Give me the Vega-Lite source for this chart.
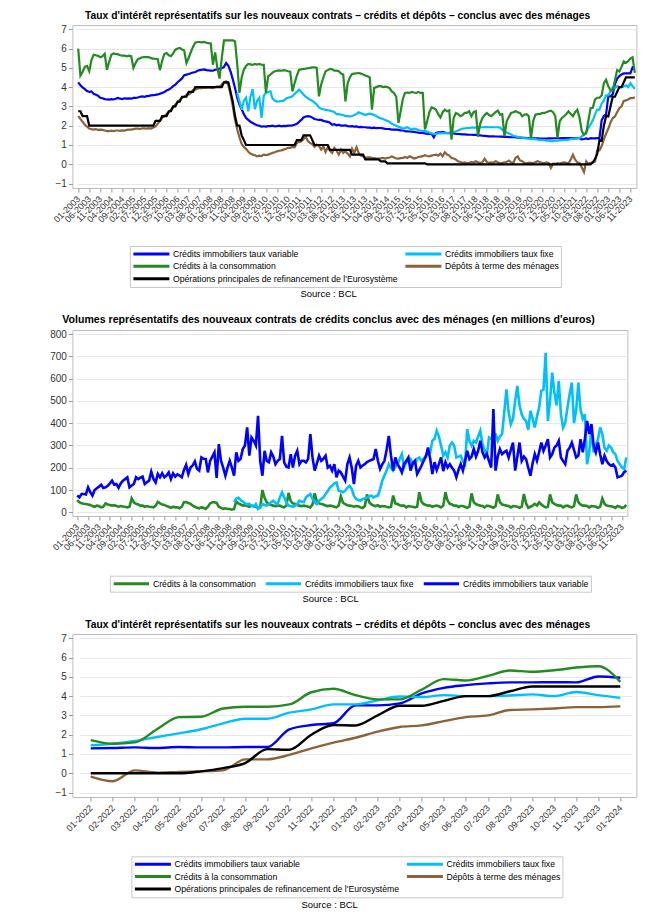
{
"$schema":"https://vega.github.io/schema/vega-lite/v6.json",
"padding":{"left":48.4,"top":10,"right":5,"bottom":5},
"columns":1,
"align":"none",
"spacing":15,
"resolve":{"scale":{"color":"independent"},"legend":{"color":"independent"}},
"config":{
"font":"Liberation Sans",
"view":{"stroke":"#bdbdbd","strokeWidth":1},
"axis":{"labelFont":"Liberation Sans","labelColor":"#333333","tickColor":"#9a9a9a","domain":false,"tickSize":4,"labelOverlap":false},
"axisY":{"grid":true,"gridColor":"#e8e8e8","labelFontSize":10,"labelPadding":2},
"axisX":{"grid":false,"labelFontSize":9,"labelAngle":-45,"labelAlign":"right","labelBaseline":"middle","labelPadding":5},
"title":{"font":"Liberation Sans","fontSize":10.3,"fontWeight":"bold","anchor":"middle","frame":"bounds","offset":3,"color":"#000000"},
"legend":{"labelFont":"Liberation Sans","labelColor":"#000000"}
},
"datasets":{
"names":[{"k":"v","n":"Crédits immobiliers taux variable"},{"k":"f","n":"Crédits immobiliers taux fixe"},{"k":"c","n":"Crédits à la consommation"},{"k":"e","n":"Dépôts à terme des ménages"},{"k":"o","n":"Opérations principales de refinancement de l'Eurosystème"},{"k":"vv","n":"Crédits immobiliers taux variable"},{"k":"vf","n":"Crédits immobiliers taux fixe"},{"k":"vc","n":"Crédits à la consommation"}],
"m":[
{"d":"2003-01","v":4.25,"c":6.0,"e":2.5,"o":2.75,"vv":75,"vc":55},
{"d":"2003-02","v":4.1,"c":4.6,"e":2.35,"o":2.75,"vv":67,"vc":45},
{"d":"2003-03","v":3.98,"c":4.8,"e":2.2,"o":2.5,"vv":82,"vc":40},
{"d":"2003-04","v":3.9,"c":5.05,"e":2.05,"o":2.5,"vv":82,"vc":38},
{"d":"2003-05","v":3.8,"c":5.1,"e":1.95,"o":2.5,"vv":80,"vc":37},
{"d":"2003-06","v":3.75,"c":4.82,"e":1.85,"o":2.0,"vv":112,"vc":35},
{"d":"2003-07","v":3.78,"c":5.4,"e":1.82,"o":2.0,"vv":90,"vc":33},
{"d":"2003-08","v":3.65,"c":5.68,"e":1.8,"o":2.0,"vv":75,"vc":28},
{"d":"2003-09","v":3.6,"c":5.65,"e":1.82,"o":2.0,"vv":100,"vc":25},
{"d":"2003-10","v":3.55,"c":5.62,"e":1.78,"o":2.0,"vv":108,"vc":30},
{"d":"2003-11","v":3.45,"c":5.55,"e":1.8,"o":2.0,"vv":115,"vc":28},
{"d":"2003-12","v":3.42,"c":5.6,"e":1.78,"o":2.0,"vv":124,"vc":22},
{"d":"2004-01","v":3.38,"c":5.73,"e":1.75,"o":2.0,"vv":109,"vc":25},
{"d":"2004-02","v":3.36,"c":4.9,"e":1.72,"o":2.0,"vv":112,"vc":40},
{"d":"2004-03","v":3.35,"c":5.3,"e":1.72,"o":2.0,"vv":119,"vc":35},
{"d":"2004-04","v":3.38,"c":5.68,"e":1.74,"o":2.0,"vv":130,"vc":33},
{"d":"2004-05","v":3.36,"c":5.75,"e":1.72,"o":2.0,"vv":142,"vc":30},
{"d":"2004-06","v":3.4,"c":5.72,"e":1.75,"o":2.0,"vv":124,"vc":32},
{"d":"2004-07","v":3.44,"c":5.7,"e":1.75,"o":2.0,"vv":127,"vc":28},
{"d":"2004-08","v":3.4,"c":5.65,"e":1.73,"o":2.0,"vv":110,"vc":25},
{"d":"2004-09","v":3.38,"c":5.63,"e":1.76,"o":2.0,"vv":130,"vc":28},
{"d":"2004-10","v":3.42,"c":5.63,"e":1.75,"o":2.0,"vv":142,"vc":26},
{"d":"2004-11","v":3.4,"c":5.6,"e":1.78,"o":2.0,"vv":149,"vc":25},
{"d":"2004-12","v":3.42,"c":5.63,"e":1.8,"o":2.0,"vv":157,"vc":22},
{"d":"2005-01","v":3.4,"c":5.6,"e":1.8,"o":2.0,"vv":112,"vc":25},
{"d":"2005-02","v":3.44,"c":5.0,"e":1.82,"o":2.0,"vv":120,"vc":62},
{"d":"2005-03","v":3.44,"c":5.25,"e":1.85,"o":2.0,"vv":127,"vc":45},
{"d":"2005-04","v":3.46,"c":5.45,"e":1.85,"o":2.0,"vv":157,"vc":38},
{"d":"2005-05","v":3.5,"c":5.5,"e":1.83,"o":2.0,"vv":149,"vc":35},
{"d":"2005-06","v":3.52,"c":5.55,"e":1.86,"o":2.0,"vv":155,"vc":30},
{"d":"2005-07","v":3.5,"c":5.56,"e":1.86,"o":2.0,"vv":160,"vc":30},
{"d":"2005-08","v":3.53,"c":5.55,"e":1.85,"o":2.0,"vv":127,"vc":25},
{"d":"2005-09","v":3.55,"c":5.56,"e":1.87,"o":2.0,"vv":135,"vc":28},
{"d":"2005-10","v":3.57,"c":5.5,"e":1.85,"o":2.0,"vv":142,"vc":25},
{"d":"2005-11","v":3.58,"c":5.48,"e":1.9,"o":2.0,"vv":182,"vc":24},
{"d":"2005-12","v":3.6,"c":5.47,"e":1.97,"o":2.25,"vv":150,"vc":22},
{"d":"2006-01","v":3.62,"c":5.45,"e":2.1,"o":2.25,"vv":134,"vc":30},
{"d":"2006-02","v":3.66,"c":4.88,"e":2.25,"o":2.25,"vv":172,"vc":47},
{"d":"2006-03","v":3.7,"c":5.35,"e":2.4,"o":2.5,"vv":157,"vc":40},
{"d":"2006-04","v":3.75,"c":5.72,"e":2.5,"o":2.5,"vv":175,"vc":35},
{"d":"2006-05","v":3.82,"c":5.77,"e":2.6,"o":2.5,"vv":157,"vc":33},
{"d":"2006-06","v":3.87,"c":5.65,"e":2.7,"o":2.75,"vv":165,"vc":28},
{"d":"2006-07","v":3.95,"c":5.6,"e":2.83,"o":2.75,"vv":179,"vc":25},
{"d":"2006-08","v":4.05,"c":5.75,"e":2.95,"o":3.0,"vv":149,"vc":20},
{"d":"2006-09","v":4.13,"c":5.94,"e":3.1,"o":3.0,"vv":175,"vc":25},
{"d":"2006-10","v":4.25,"c":6.0,"e":3.2,"o":3.25,"vv":160,"vc":22},
{"d":"2006-11","v":4.35,"c":6.03,"e":3.35,"o":3.25,"vv":170,"vc":22},
{"d":"2006-12","v":4.45,"c":5.95,"e":3.45,"o":3.5,"vv":165,"vc":18},
{"d":"2007-01","v":4.62,"c":5.9,"e":3.5,"o":3.5,"vv":157,"vc":25},
{"d":"2007-02","v":4.65,"c":5.25,"e":3.6,"o":3.5,"vv":190,"vc":45},
{"d":"2007-03","v":4.68,"c":5.51,"e":3.62,"o":3.75,"vv":213,"vc":46},
{"d":"2007-04","v":4.72,"c":5.82,"e":3.7,"o":3.75,"vv":172,"vc":42},
{"d":"2007-05","v":4.76,"c":6.1,"e":3.85,"o":3.75,"vv":201,"vc":38},
{"d":"2007-06","v":4.78,"c":6.3,"e":3.87,"o":4.0,"vv":210,"vc":30},
{"d":"2007-07","v":4.85,"c":6.34,"e":3.92,"o":4.0,"vv":228,"vc":25},
{"d":"2007-08","v":4.88,"c":6.34,"e":3.96,"o":4.0,"vv":195,"vc":20},
{"d":"2007-09","v":4.9,"c":6.32,"e":3.95,"o":4.0,"vv":187,"vc":18},
{"d":"2007-10","v":4.92,"c":6.34,"e":3.97,"o":4.0,"vv":246,"vc":22},
{"d":"2007-11","v":4.88,"c":6.3,"e":3.96,"o":4.0,"vv":240,"vc":20},
{"d":"2007-12","v":4.87,"c":6.28,"e":3.98,"o":4.0,"vv":239,"vc":15},
{"d":"2008-01","v":4.86,"c":6.27,"e":3.96,"o":4.0,"vv":179,"vc":25},
{"d":"2008-02","v":4.85,"c":5.16,"e":3.95,"o":4.0,"vv":231,"vc":40},
{"d":"2008-03","v":4.9,"c":5.8,"e":4.0,"o":4.0,"vv":250,"vc":45},
{"d":"2008-04","v":4.92,"c":5.0,"e":4.04,"o":4.0,"vv":269,"vc":45},
{"d":"2008-05","v":4.96,"c":4.44,"e":4.02,"o":4.0,"vv":154,"vc":42},
{"d":"2008-06","v":4.98,"c":5.5,"e":4.15,"o":4.0,"vv":306,"vc":25},
{"d":"2008-07","v":5.05,"c":6.42,"e":4.25,"o":4.25,"vv":231,"vc":20},
{"d":"2008-08","v":5.25,"c":6.42,"e":4.3,"o":4.25,"vv":200,"vc":15},
{"d":"2008-09","v":5.1,"c":6.42,"e":4.1,"o":4.25,"vv":164,"vc":18},
{"d":"2008-10","v":4.8,"c":6.42,"e":3.6,"o":3.75,"vv":201,"vc":15},
{"d":"2008-11","v":4.4,"c":6.42,"e":3.0,"o":3.25,"vv":231,"vc":15},
{"d":"2008-12","v":3.95,"c":6.38,"e":2.3,"o":2.5,"vv":200,"vc":12},
{"d":"2009-01","v":3.45,"f":3.7,"c":5.2,"e":1.8,"o":2.0,"vv":164,"vf":45,"vc":15},
{"d":"2009-02","v":3.1,"f":3.26,"c":3.7,"e":1.4,"o":2.0,"vv":269,"vf":62,"vc":48},
{"d":"2009-03","v":2.85,"f":2.83,"c":4.5,"e":1.05,"o":1.5,"vv":231,"vf":65,"vc":40},
{"d":"2009-04","v":2.6,"f":3.3,"c":4.9,"e":0.9,"o":1.25,"vv":240,"vf":55,"vc":35},
{"d":"2009-05","v":2.4,"f":3.45,"c":5.1,"e":0.8,"o":1.0,"vv":284,"vf":48,"vc":30},
{"d":"2009-06","v":2.3,"f":2.75,"c":5.2,"e":0.65,"o":1.0,"vv":300,"vf":40,"vc":32},
{"d":"2009-07","v":2.2,"f":3.5,"c":5.18,"e":0.55,"o":1.0,"vv":381,"vf":35,"vc":28},
{"d":"2009-08","v":2.14,"f":3.9,"c":5.15,"e":0.5,"o":1.0,"vv":254,"vf":38,"vc":25},
{"d":"2009-09","v":2.08,"f":2.85,"c":5.2,"e":0.47,"o":1.0,"vv":336,"vf":30,"vc":30},
{"d":"2009-10","v":2.02,"f":3.3,"c":5.17,"e":0.41,"o":1.0,"vv":321,"vf":25,"vc":28},
{"d":"2009-11","v":2.0,"f":3.45,"c":5.2,"e":0.45,"o":1.0,"vv":300,"vf":37,"vc":25},
{"d":"2009-12","v":1.95,"f":2.4,"c":5.16,"e":0.43,"o":1.0,"vv":433,"vf":15,"vc":20},
{"d":"2010-01","v":1.97,"f":3.55,"c":5.16,"e":0.5,"o":1.0,"vv":230,"vf":22,"vc":22},
{"d":"2010-02","v":1.95,"f":3.7,"c":3.7,"e":0.48,"o":1.0,"vv":164,"vf":37,"vc":100},
{"d":"2010-03","v":1.98,"f":3.75,"c":4.56,"e":0.5,"o":1.0,"vv":276,"vf":33,"vc":65},
{"d":"2010-04","v":1.98,"f":3.78,"c":4.65,"e":0.55,"o":1.0,"vv":231,"vf":30,"vc":45},
{"d":"2010-05","v":2.0,"f":3.4,"c":4.75,"e":0.59,"o":1.0,"vv":225,"vf":37,"vc":37},
{"d":"2010-06","v":1.96,"f":3.3,"c":4.82,"e":0.62,"o":1.0,"vv":269,"vf":45,"vc":33},
{"d":"2010-07","v":1.98,"f":3.25,"c":4.85,"e":0.67,"o":1.0,"vv":250,"vf":52,"vc":30},
{"d":"2010-08","v":2.0,"f":3.26,"c":4.87,"e":0.7,"o":1.0,"vv":216,"vf":42,"vc":28},
{"d":"2010-09","v":1.97,"f":3.28,"c":4.85,"e":0.72,"o":1.0,"vv":231,"vf":37,"vc":30},
{"d":"2010-10","v":1.99,"f":3.3,"c":4.88,"e":0.76,"o":1.0,"vv":239,"vf":67,"vc":30},
{"d":"2010-11","v":1.98,"f":3.4,"c":4.86,"e":0.8,"o":1.0,"vv":343,"vf":90,"vc":25},
{"d":"2010-12","v":2.0,"f":3.45,"c":4.82,"e":0.85,"o":1.0,"vv":224,"vf":67,"vc":22},
{"d":"2011-01","v":2.0,"f":3.48,"c":4.8,"e":0.85,"o":1.0,"vv":205,"vf":45,"vc":30},
{"d":"2011-02","v":2.02,"f":3.52,"c":3.78,"e":0.9,"o":1.0,"vv":201,"vf":30,"vc":87},
{"d":"2011-03","v":2.05,"f":3.65,"c":4.21,"e":0.88,"o":1.0,"vv":261,"vf":28,"vc":50},
{"d":"2011-04","v":2.1,"f":3.75,"c":4.6,"e":1.1,"o":1.25,"vv":201,"vf":25,"vc":40},
{"d":"2011-05","v":2.2,"f":3.87,"c":4.9,"e":1.15,"o":1.25,"vv":254,"vf":30,"vc":37},
{"d":"2011-06","v":2.3,"f":3.75,"c":4.92,"e":1.19,"o":1.25,"vv":276,"vf":37,"vc":33},
{"d":"2011-07","v":2.43,"f":3.62,"c":4.95,"e":1.3,"o":1.5,"vv":216,"vf":52,"vc":30},
{"d":"2011-08","v":2.48,"f":3.5,"c":4.96,"e":1.45,"o":1.5,"vv":231,"vf":48,"vc":28},
{"d":"2011-09","v":2.5,"f":3.42,"c":4.98,"e":1.2,"o":1.5,"vv":231,"vf":45,"vc":30},
{"d":"2011-10","v":2.48,"f":3.35,"c":5.0,"e":1.1,"o":1.5,"vv":224,"vf":67,"vc":28},
{"d":"2011-11","v":2.42,"f":3.3,"c":5.02,"e":1.05,"o":1.25,"vv":240,"vf":75,"vc":25},
{"d":"2011-12","v":2.35,"f":3.2,"c":5.03,"e":0.9,"o":1.0,"vv":351,"vf":82,"vc":22},
{"d":"2012-01","v":2.32,"f":3.1,"c":5.0,"e":1.02,"o":1.0,"vv":246,"vf":60,"vc":35},
{"d":"2012-02","v":2.3,"f":2.95,"c":3.52,"e":0.95,"o":1.0,"vv":187,"vf":45,"vc":85},
{"d":"2012-03","v":2.3,"f":2.88,"c":4.13,"e":0.76,"o":1.0,"vv":220,"vf":37,"vc":48},
{"d":"2012-04","v":2.25,"f":2.85,"c":4.5,"e":0.93,"o":1.0,"vv":254,"vf":52,"vc":40},
{"d":"2012-05","v":2.22,"f":2.82,"c":4.82,"e":0.64,"o":1.0,"vv":231,"vf":60,"vc":37},
{"d":"2012-06","v":2.2,"f":2.8,"c":4.88,"e":0.88,"o":1.0,"vv":240,"vf":67,"vc":35},
{"d":"2012-07","v":2.15,"f":2.78,"c":4.94,"e":0.7,"o":0.75,"vv":254,"vf":82,"vc":30},
{"d":"2012-08","v":2.05,"f":2.75,"c":4.92,"e":0.59,"o":0.75,"vv":201,"vf":95,"vc":28},
{"d":"2012-09","v":2.08,"f":2.7,"c":4.85,"e":0.85,"o":0.75,"vv":209,"vf":112,"vc":30},
{"d":"2012-10","v":2.02,"f":2.6,"c":4.85,"e":0.7,"o":0.75,"vv":187,"vf":119,"vc":28},
{"d":"2012-11","v":2.05,"f":2.6,"c":4.82,"e":0.5,"o":0.75,"vv":216,"vf":130,"vc":25},
{"d":"2012-12","v":2.0,"f":2.57,"c":4.7,"e":0.76,"o":0.75,"vv":157,"vf":134,"vc":22},
{"d":"2013-01","v":2.0,"f":2.55,"c":4.65,"e":0.59,"o":0.75,"vv":187,"vf":97,"vc":30},
{"d":"2013-02","v":2.02,"f":2.5,"c":3.26,"e":0.67,"o":0.75,"vv":179,"vf":95,"vc":72},
{"d":"2013-03","v":1.98,"f":2.5,"c":4.21,"e":0.55,"o":0.75,"vv":160,"vf":90,"vc":42},
{"d":"2013-04","v":1.97,"f":2.48,"c":4.5,"e":0.41,"o":0.75,"vv":142,"vf":97,"vc":37},
{"d":"2013-05","v":1.98,"f":2.5,"c":4.68,"e":0.81,"o":0.5,"vv":216,"vf":110,"vc":32},
{"d":"2013-06","v":1.95,"f":2.55,"c":4.7,"e":0.6,"o":0.5,"vv":246,"vf":119,"vc":30},
{"d":"2013-07","v":1.96,"f":2.6,"c":4.72,"e":0.88,"o":0.5,"vv":200,"vf":104,"vc":28},
{"d":"2013-08","v":1.93,"f":2.7,"c":4.73,"e":0.59,"o":0.5,"vv":127,"vf":75,"vc":25},
{"d":"2013-09","v":1.94,"f":2.65,"c":4.7,"e":0.45,"o":0.5,"vv":209,"vf":60,"vc":28},
{"d":"2013-10","v":1.92,"f":2.6,"c":4.65,"e":0.41,"o":0.5,"vv":231,"vf":55,"vc":27},
{"d":"2013-11","v":1.92,"f":2.55,"c":4.6,"e":0.33,"o":0.25,"vv":201,"vf":52,"vc":22},
{"d":"2013-12","v":1.9,"f":2.6,"c":4.56,"e":0.36,"o":0.25,"vv":210,"vf":60,"vc":19},
{"d":"2014-01","v":1.9,"f":2.62,"c":4.5,"e":0.36,"o":0.25,"vv":216,"vf":62,"vc":28},
{"d":"2014-02","v":1.88,"f":2.6,"c":2.83,"e":0.33,"o":0.25,"vv":225,"vf":67,"vc":80},
{"d":"2014-03","v":1.9,"f":2.55,"c":3.96,"e":0.32,"o":0.25,"vv":231,"vf":72,"vc":45},
{"d":"2014-04","v":1.87,"f":2.5,"c":4.0,"e":0.3,"o":0.25,"vv":235,"vf":75,"vc":35},
{"d":"2014-05","v":1.88,"f":2.42,"c":4.05,"e":0.29,"o":0.25,"vv":239,"vf":67,"vc":30},
{"d":"2014-06","v":1.88,"f":2.38,"c":4.05,"e":0.31,"o":0.15,"vv":284,"vf":72,"vc":28},
{"d":"2014-07","v":1.86,"f":2.35,"c":4.0,"e":0.33,"o":0.15,"vv":231,"vf":75,"vc":32},
{"d":"2014-08","v":1.84,"f":2.3,"c":4.02,"e":0.3,"o":0.15,"vv":194,"vf":104,"vc":25},
{"d":"2014-09","v":1.83,"f":2.25,"c":4.0,"e":0.33,"o":0.05,"vv":215,"vf":142,"vc":28},
{"d":"2014-10","v":1.82,"f":2.2,"c":3.95,"e":0.35,"o":0.05,"vv":231,"vf":165,"vc":27},
{"d":"2014-11","v":1.8,"f":2.1,"c":3.78,"e":0.41,"o":0.05,"vv":280,"vf":187,"vc":25},
{"d":"2014-12","v":1.8,"f":2.05,"c":3.7,"e":0.35,"o":0.05,"vv":343,"vf":216,"vc":22},
{"d":"2015-01","v":1.8,"f":2.0,"c":3.5,"e":0.3,"o":0.05,"vv":254,"vf":200,"vc":25},
{"d":"2015-02","v":1.78,"f":1.95,"c":2.14,"e":0.29,"o":0.05,"vv":187,"vf":187,"vc":75},
{"d":"2015-03","v":1.76,"f":1.9,"c":2.75,"e":0.32,"o":0.05,"vv":246,"vf":205,"vc":40},
{"d":"2015-04","v":1.75,"f":1.85,"c":3.4,"e":0.33,"o":0.05,"vv":216,"vf":216,"vc":37},
{"d":"2015-05","v":1.72,"f":1.88,"c":3.7,"e":0.38,"o":0.05,"vv":200,"vf":239,"vc":32},
{"d":"2015-06","v":1.71,"f":1.92,"c":3.72,"e":0.33,"o":0.05,"vv":179,"vf":261,"vc":30},
{"d":"2015-07","v":1.7,"f":1.85,"c":3.7,"e":0.41,"o":0.05,"vv":216,"vf":201,"vc":30},
{"d":"2015-08","v":1.69,"f":1.8,"c":3.75,"e":0.36,"o":0.05,"vv":230,"vf":225,"vc":22},
{"d":"2015-09","v":1.68,"f":1.85,"c":3.72,"e":0.3,"o":0.05,"vv":246,"vf":231,"vc":28},
{"d":"2015-10","v":1.66,"f":1.82,"c":3.7,"e":0.33,"o":0.05,"vv":187,"vf":239,"vc":26},
{"d":"2015-11","v":1.64,"f":1.78,"c":3.75,"e":0.38,"o":0.05,"vv":220,"vf":220,"vc":25},
{"d":"2015-12","v":1.63,"f":1.75,"c":3.7,"e":0.4,"o":0.05,"vv":231,"vf":216,"vc":22},
{"d":"2016-01","v":1.62,"f":1.73,"c":3.7,"e":0.42,"o":0.05,"vv":172,"vf":240,"vc":25},
{"d":"2016-02","v":1.6,"f":1.72,"c":1.8,"e":0.47,"o":0.05,"vv":190,"vf":246,"vc":90},
{"d":"2016-03","v":1.58,"f":1.7,"c":2.23,"e":0.43,"o":0.0,"vv":209,"vf":231,"vc":48},
{"d":"2016-04","v":1.57,"f":1.65,"c":2.7,"e":0.41,"o":0.0,"vv":231,"vf":240,"vc":37},
{"d":"2016-05","v":1.57,"f":1.6,"c":2.95,"e":0.45,"o":0.0,"vv":250,"vf":254,"vc":33},
{"d":"2016-06","v":1.4,"f":1.57,"c":2.9,"e":0.48,"o":0.0,"vv":291,"vf":260,"vc":30},
{"d":"2016-07","v":1.62,"f":1.58,"c":2.83,"e":0.5,"o":0.0,"vv":240,"vf":269,"vc":30},
{"d":"2016-08","v":1.65,"f":1.6,"c":2.6,"e":0.45,"o":0.0,"vv":172,"vf":321,"vc":25},
{"d":"2016-09","v":1.66,"f":1.6,"c":2.43,"e":0.55,"o":0.0,"vv":225,"vf":330,"vc":28},
{"d":"2016-10","v":1.68,"f":1.62,"c":2.7,"e":0.41,"o":0.0,"vv":190,"vf":366,"vc":30},
{"d":"2016-11","v":1.64,"f":1.6,"c":2.83,"e":0.62,"o":0.0,"vv":216,"vf":340,"vc":27},
{"d":"2016-12","v":1.62,"f":1.62,"c":2.75,"e":0.5,"o":0.0,"vv":246,"vf":299,"vc":22},
{"d":"2017-01","v":1.62,"f":1.64,"c":2.8,"e":0.45,"o":0.0,"vv":185,"vf":254,"vc":30},
{"d":"2017-02","v":1.6,"f":1.66,"c":1.28,"e":0.33,"o":0.0,"vv":225,"vf":269,"vc":90},
{"d":"2017-03","v":1.6,"f":1.68,"c":2.4,"e":0.3,"o":0.0,"vv":201,"vf":246,"vc":52},
{"d":"2017-04","v":1.58,"f":1.7,"c":2.66,"e":0.24,"o":0.0,"vv":216,"vf":300,"vc":38},
{"d":"2017-05","v":1.57,"f":1.75,"c":2.6,"e":0.16,"o":0.0,"vv":200,"vf":313,"vc":35},
{"d":"2017-06","v":1.56,"f":1.8,"c":2.49,"e":0.12,"o":0.0,"vv":187,"vf":299,"vc":30},
{"d":"2017-07","v":1.55,"f":1.85,"c":2.55,"e":0.07,"o":0.0,"vv":157,"vf":246,"vc":30},
{"d":"2017-08","v":1.55,"f":1.86,"c":2.66,"e":0.1,"o":0.0,"vv":190,"vf":250,"vc":24},
{"d":"2017-09","v":1.54,"f":1.88,"c":2.66,"e":0.05,"o":0.0,"vv":216,"vf":254,"vc":28},
{"d":"2017-10","v":1.53,"f":1.88,"c":2.75,"e":0.07,"o":0.0,"vv":187,"vf":230,"vc":28},
{"d":"2017-11","v":1.53,"f":1.9,"c":2.49,"e":0.12,"o":0.0,"vv":230,"vf":216,"vc":25},
{"d":"2017-12","v":1.52,"f":1.9,"c":2.7,"e":0.08,"o":0.0,"vv":276,"vf":373,"vc":20},
{"d":"2018-01","v":1.52,"f":1.9,"c":2.75,"e":0.16,"o":0.0,"vv":239,"vf":320,"vc":25},
{"d":"2018-02","v":1.5,"f":1.92,"c":1.45,"e":0.1,"o":0.0,"vv":250,"vf":299,"vc":85},
{"d":"2018-03","v":1.5,"f":1.92,"c":2.1,"e":0.07,"o":0.0,"vv":284,"vf":321,"vc":45},
{"d":"2018-04","v":1.48,"f":1.92,"c":2.4,"e":0.1,"o":0.0,"vv":250,"vf":313,"vc":37},
{"d":"2018-05","v":1.47,"f":1.93,"c":2.55,"e":0.29,"o":0.0,"vv":276,"vf":340,"vc":33},
{"d":"2018-06","v":1.46,"f":1.93,"c":2.66,"e":0.12,"o":0.0,"vv":321,"vf":366,"vc":30},
{"d":"2018-07","v":1.45,"f":1.92,"c":2.55,"e":0.07,"o":0.0,"vv":270,"vf":306,"vc":28},
{"d":"2018-08","v":1.45,"f":1.93,"c":2.49,"e":0.1,"o":0.0,"vv":246,"vf":280,"vc":22},
{"d":"2018-09","v":1.45,"f":1.92,"c":2.6,"e":0.08,"o":0.0,"vv":261,"vf":254,"vc":30},
{"d":"2018-10","v":1.44,"f":1.92,"c":2.7,"e":0.16,"o":0.0,"vv":230,"vf":336,"vc":28},
{"d":"2018-11","v":1.44,"f":1.92,"c":2.78,"e":0.1,"o":0.0,"vv":201,"vf":330,"vc":25},
{"d":"2018-12","v":1.43,"f":1.9,"c":2.57,"e":0.05,"o":0.0,"vv":463,"vf":350,"vc":20},
{"d":"2019-01","v":1.43,"f":1.8,"c":2.6,"e":0.07,"o":0.0,"vv":187,"vf":351,"vc":27},
{"d":"2019-02","v":1.42,"f":1.7,"c":1.45,"e":0.1,"o":0.0,"vv":250,"vf":321,"vc":80},
{"d":"2019-03","v":1.42,"f":1.65,"c":2.23,"e":0.12,"o":0.0,"vv":284,"vf":340,"vc":45},
{"d":"2019-04","v":1.41,"f":1.6,"c":2.45,"e":0.19,"o":0.0,"vv":261,"vf":351,"vc":35},
{"d":"2019-05","v":1.4,"f":1.55,"c":2.66,"e":0.1,"o":0.0,"vv":270,"vf":450,"vc":33},
{"d":"2019-06","v":1.4,"f":1.48,"c":2.7,"e":0.07,"o":0.0,"vv":276,"vf":552,"vc":30},
{"d":"2019-07","v":1.4,"f":1.45,"c":2.75,"e":0.33,"o":0.0,"vv":246,"vf":450,"vc":28},
{"d":"2019-08","v":1.38,"f":1.42,"c":2.7,"e":0.41,"o":0.0,"vv":280,"vf":396,"vc":22},
{"d":"2019-09","v":1.38,"f":1.4,"c":2.66,"e":0.2,"o":0.0,"vv":313,"vf":420,"vc":28},
{"d":"2019-10","v":1.37,"f":1.38,"c":2.49,"e":0.16,"o":0.0,"vv":187,"vf":500,"vc":27},
{"d":"2019-11","v":1.37,"f":1.36,"c":2.57,"e":0.07,"o":0.0,"vv":250,"vf":567,"vc":25},
{"d":"2019-12","v":1.36,"f":1.35,"c":2.6,"e":0.05,"o":0.0,"vv":313,"vf":480,"vc":20},
{"d":"2020-01","v":1.36,"f":1.33,"c":2.5,"e":0.08,"o":0.0,"vv":231,"vf":440,"vc":25},
{"d":"2020-02","v":1.35,"f":1.32,"c":1.36,"e":0.07,"o":0.0,"vv":250,"vf":420,"vc":82},
{"d":"2020-03","v":1.35,"f":1.3,"c":2.23,"e":0.06,"o":0.0,"vv":239,"vf":410,"vc":40},
{"d":"2020-04","v":1.34,"f":1.3,"c":2.57,"e":0.1,"o":0.0,"vv":200,"vf":370,"vc":20},
{"d":"2020-05","v":1.34,"f":1.28,"c":2.6,"e":0.16,"o":0.0,"vv":164,"vf":455,"vc":25},
{"d":"2020-06","v":1.33,"f":1.27,"c":2.6,"e":0.12,"o":0.0,"vv":220,"vf":420,"vc":30},
{"d":"2020-07","v":1.33,"f":1.26,"c":2.65,"e":0.07,"o":0.0,"vv":261,"vf":381,"vc":38},
{"d":"2020-08","v":1.33,"f":1.25,"c":2.66,"e":0.05,"o":0.0,"vv":231,"vf":430,"vc":30},
{"d":"2020-09","v":1.33,"f":1.23,"c":2.7,"e":0.1,"o":0.0,"vv":270,"vf":470,"vc":45},
{"d":"2020-10","v":1.34,"f":1.22,"c":2.75,"e":0.07,"o":0.0,"vv":313,"vf":545,"vc":35},
{"d":"2020-11","v":1.34,"f":1.2,"c":2.78,"e":-0.19,"o":0.0,"vv":276,"vf":550,"vc":28},
{"d":"2020-12","v":1.35,"f":1.2,"c":2.7,"e":0.03,"o":0.0,"vv":300,"vf":716,"vc":22},
{"d":"2021-01","v":1.35,"f":1.22,"c":2.5,"e":0.02,"o":0.0,"vv":328,"vf":410,"vc":25},
{"d":"2021-02","v":1.35,"f":1.22,"c":1.36,"e":0.06,"o":0.0,"vv":246,"vf":500,"vc":80},
{"d":"2021-03","v":1.35,"f":1.24,"c":2.23,"e":0.04,"o":0.0,"vv":261,"vf":627,"vc":45},
{"d":"2021-04","v":1.36,"f":1.25,"c":2.4,"e":0.07,"o":0.0,"vv":290,"vf":537,"vc":38},
{"d":"2021-05","v":1.36,"f":1.26,"c":2.49,"e":0.1,"o":0.0,"vv":300,"vf":480,"vc":33},
{"d":"2021-06","v":1.36,"f":1.27,"c":2.6,"e":0.07,"o":0.0,"vv":321,"vf":590,"vc":30},
{"d":"2021-07","v":1.36,"f":1.28,"c":2.75,"e":0.05,"o":0.0,"vv":246,"vf":440,"vc":30},
{"d":"2021-08","v":1.36,"f":1.3,"c":2.6,"e":0.24,"o":0.0,"vv":230,"vf":380,"vc":22},
{"d":"2021-09","v":1.35,"f":1.31,"c":2.49,"e":0.5,"o":0.0,"vv":216,"vf":403,"vc":28},
{"d":"2021-10","v":1.35,"f":1.32,"c":2.7,"e":0.24,"o":0.0,"vv":276,"vf":470,"vc":30},
{"d":"2021-11","v":1.36,"f":1.34,"c":2.83,"e":0.1,"o":0.0,"vv":290,"vf":530,"vc":25},
{"d":"2021-12","v":1.35,"f":1.36,"c":2.4,"e":0.07,"o":0.0,"vv":313,"vf":582,"vc":22},
{"d":"2022-01","v":1.29,"f":1.45,"c":1.72,"e":-0.17,"o":0.0,"vv":280,"vf":400,"vc":28},
{"d":"2022-02","v":1.31,"f":1.53,"c":1.53,"e":-0.41,"o":0.0,"vv":246,"vf":460,"vc":80},
{"d":"2022-03","v":1.34,"f":1.67,"c":1.6,"e":0.15,"o":0.0,"vv":254,"vf":582,"vc":45},
{"d":"2022-04","v":1.31,"f":1.88,"c":2.28,"e":0.03,"o":0.0,"vv":328,"vf":460,"vc":35},
{"d":"2022-05","v":1.36,"f":2.07,"c":2.91,"e":0.07,"o":0.0,"vv":269,"vf":420,"vc":30},
{"d":"2022-06","v":1.34,"f":2.28,"c":2.93,"e":0.1,"o":0.1,"vv":330,"vf":440,"vc":30},
{"d":"2022-07","v":1.34,"f":2.59,"c":3.36,"e":0.15,"o":0.27,"vv":410,"vf":216,"vc":28},
{"d":"2022-08","v":1.36,"f":2.83,"c":3.45,"e":0.72,"o":0.53,"vv":351,"vf":270,"vc":22},
{"d":"2022-09","v":1.36,"f":2.83,"c":3.45,"e":0.72,"o":1.25,"vv":396,"vf":380,"vc":28},
{"d":"2022-10","v":2.28,"f":3.14,"c":3.57,"e":0.95,"o":1.22,"vv":300,"vf":269,"vc":27},
{"d":"2022-11","v":2.5,"f":3.31,"c":4.2,"e":1.29,"o":2.0,"vv":269,"vf":300,"vc":25},
{"d":"2022-12","v":2.59,"f":3.57,"c":4.38,"e":1.59,"o":2.5,"vv":313,"vf":328,"vc":20},
{"d":"2023-01","v":3.52,"f":3.57,"c":4.05,"e":1.84,"o":2.48,"vv":260,"vf":381,"vc":25},
{"d":"2023-02","v":3.52,"f":3.78,"c":3.83,"e":2.16,"o":3.0,"vv":216,"vf":351,"vc":62},
{"d":"2023-03","v":3.62,"f":3.98,"c":3.83,"e":2.4,"o":3.5,"vv":254,"vf":290,"vc":38},
{"d":"2023-04","v":4.14,"f":3.95,"c":4.34,"e":2.48,"o":3.5,"vv":230,"vf":276,"vc":30},
{"d":"2023-05","v":4.43,"f":4.05,"c":4.88,"e":2.7,"o":3.75,"vv":216,"vf":300,"vc":28},
{"d":"2023-06","v":4.57,"f":4.0,"c":4.81,"e":2.91,"o":4.0,"vv":209,"vf":291,"vc":27},
{"d":"2023-07","v":4.66,"f":4.0,"c":5.05,"e":3.0,"o":4.0,"vv":215,"vf":270,"vc":25},
{"d":"2023-08","v":4.71,"f":4.03,"c":5.33,"e":3.28,"o":4.25,"vv":201,"vf":261,"vc":20},
{"d":"2023-09","v":4.71,"f":4.09,"c":5.26,"e":3.31,"o":4.5,"vv":157,"vf":230,"vc":28},
{"d":"2023-10","v":4.72,"f":4.0,"c":5.34,"e":3.36,"o":4.5,"vv":160,"vf":216,"vc":25},
{"d":"2023-11","v":4.71,"f":4.21,"c":5.48,"e":3.43,"o":4.5,"vv":164,"vf":201,"vc":20},
{"d":"2023-12","v":5.02,"f":4.05,"c":5.55,"e":3.43,"o":4.5,"vv":180,"vf":195,"vc":22},
{"d":"2024-01","v":4.95,"f":3.91,"c":4.74,"e":3.47,"o":4.5,"vv":187,"vf":246,"vc":33}
]},
"concat":[
{
"title":{"text":"Source : BCL","orient":"bottom","fontSize":9.5,"fontWeight":"normal","offset":1,"dx":-17},
"resolve":{"scale":{"color":"independent"},"legend":{"color":"independent"}},
"vconcat":[{
"title":{"text":"Taux d'intérêt représentatifs sur les nouveaux contrats – crédits et dépôts – conclus avec des ménages","dx":-8},
"width":564,"height":163,
"data":{"name":"m"},
"transform":[{"fold":["v","f","c","e","o"],"as":["k","val"]},{"lookup":"k","from":{"data":{"name":"names"},"key":"k","fields":["n"]}}],
"mark":{"type":"line","strokeWidth":2.2},
"encoding":{
"x":{"field":"d","type":"ordinal","scale":{"type":"point","range":[4.7,563.5]},"axis":{"title":null,"values":["2003-01","2003-06","2003-11","2004-04","2004-09","2005-02","2005-07","2005-12","2006-05","2006-10","2007-03","2007-08","2008-01","2008-06","2008-11","2009-04","2009-09","2010-02","2010-07","2010-12","2011-05","2011-10","2012-03","2012-08","2013-01","2013-06","2013-11","2014-04","2014-09","2015-02","2015-07","2015-12","2016-05","2016-10","2017-03","2017-08","2018-01","2018-06","2018-11","2019-04","2019-09","2020-02","2020-07","2020-12","2021-05","2021-10","2022-03","2022-08","2023-01","2023-06","2023-11"],"labelExpr":"substring(datum.value,5,7)+'-'+substring(datum.value,0,4)"}},
"y":{"field":"val","type":"quantitative","scale":{"domain":[-1.23,7.22],"nice":false,"zero":false},"axis":{"title":null,"values":[-1,0,1,2,3,4,5,6,7]}},
"color":{"field":"n","type":"nominal","scale":{"domain":["Crédits immobiliers taux variable","Crédits à la consommation","Opérations principales de refinancement de l'Eurosystème","Crédits immobiliers taux fixe","Dépôts à terme des ménages"],"range":["#0000ff","#228b22","#000000","#00bfff","#8c6239"]},
"legend":{"title":null,"orient":"none","legendX":57.5,"legendY":221,"columns":2,"symbolType":"stroke","symbolSize":1296,"symbolStrokeWidth":3,"clipHeight":11.5,"rowPadding":0.5,"columnPadding":6,"labelFontSize":8.7,"labelOffset":2,"strokeColor":"#c8c8c8","padding":2,"labelLimit":300}}
}
}]
},
{
"title":{"text":"Source : BCL","orient":"bottom","fontSize":9.5,"fontWeight":"normal","offset":1.5,"dx":-10},
"resolve":{"scale":{"color":"independent"},"legend":{"color":"independent"}},
"vconcat":[{
"title":{"text":"Volumes représentatifs des nouveaux contrats de crédits conclus avec des ménages (en millions d'euros)","dx":-12,"fontSize":10.6},
"width":555,"height":186,
"data":{"name":"m"},
"transform":[{"fold":["vc","vf","vv"],"as":["k","val"]},{"lookup":"k","from":{"data":{"name":"names"},"key":"k","fields":["n"]}}],
"mark":{"type":"line","strokeWidth":2.6},
"encoding":{
"x":{"field":"d","type":"ordinal","scale":{"type":"point","range":[3.7,555]},"axis":{"title":null,"values":["2003-01","2003-06","2003-11","2004-04","2004-09","2005-02","2005-07","2005-12","2006-05","2006-10","2007-03","2007-08","2008-01","2008-06","2008-11","2009-04","2009-09","2010-02","2010-07","2010-12","2011-05","2011-10","2012-03","2012-08","2013-01","2013-06","2013-11","2014-04","2014-09","2015-02","2015-07","2015-12","2016-05","2016-10","2017-03","2017-08","2018-01","2018-06","2018-11","2019-04","2019-09","2020-02","2020-07","2020-12","2021-05","2021-10","2022-03","2022-08","2023-01","2023-06","2023-11"],"labelExpr":"substring(datum.value,5,7)+'-'+substring(datum.value,0,4)"}},
"y":{"field":"val","type":"quantitative","scale":{"domain":[-16.6,818],"nice":false,"zero":false},"axis":{"title":null,"values":[0,100,200,300,400,500,600,700,800]}},
"color":{"field":"n","type":"nominal","scale":{"domain":["Crédits à la consommation","Crédits immobiliers taux fixe","Crédits immobiliers taux variable"],"range":["#228b22","#00bfff","#0000ff"]},
"legend":{"title":null,"orient":"none","legendX":37.5,"legendY":245.7,"columns":3,"symbolType":"stroke","symbolSize":1246,"symbolStrokeWidth":3,"clipHeight":11.5,"rowPadding":0.5,"columnPadding":8,"labelFontSize":8.7,"labelOffset":2,"strokeColor":"#c8c8c8","padding":2,"labelLimit":300}}
}
}]
},
{
"title":{"text":"Source : BCL","orient":"bottom","fontSize":9.5,"fontWeight":"normal","offset":1.5,"dx":-16},
"resolve":{"scale":{"color":"independent"},"legend":{"color":"independent"}},
"vconcat":[{
"title":{"text":"Taux d'intérêt représentatifs sur les nouveaux contrats – crédits et dépôts – conclus avec des ménages","dx":-8},
"width":564,"height":163,
"data":{"name":"m"},
"transform":[{"filter":"datum.d >= '2022-01'"},{"fold":["v","f","c","e","o"],"as":["k","val"]},{"lookup":"k","from":{"data":{"name":"names"},"key":"k","fields":["n"]}}],
"mark":{"type":"line","strokeWidth":2.4,"interpolate":"monotone"},
"encoding":{
"x":{"field":"d","type":"ordinal","scale":{"type":"point","range":[7.3,559]},"axis":{"title":null,"labelExpr":"substring(datum.value,5,7)+'-'+substring(datum.value,0,4)"}},
"y":{"field":"val","type":"quantitative","scale":{"domain":[-1.23,7.22],"nice":false,"zero":false},"axis":{"title":null,"values":[-1,0,1,2,3,4,5,6,7]}},
"color":{"field":"n","type":"nominal","scale":{"domain":["Crédits immobiliers taux variable","Crédits à la consommation","Opérations principales de refinancement de l'Eurosystème","Crédits immobiliers taux fixe","Dépôts à terme des ménages"],"range":["#0000ff","#228b22","#000000","#00bfff","#8c6239"]},
"legend":{"title":null,"orient":"none","legendX":59,"legendY":222.3,"columns":2,"symbolType":"stroke","symbolSize":1296,"symbolStrokeWidth":3,"clipHeight":11.5,"rowPadding":0.5,"columnPadding":6,"labelFontSize":8.7,"labelOffset":2,"strokeColor":"#c8c8c8","padding":2,"labelLimit":300}}
}
}]
}
]
}
